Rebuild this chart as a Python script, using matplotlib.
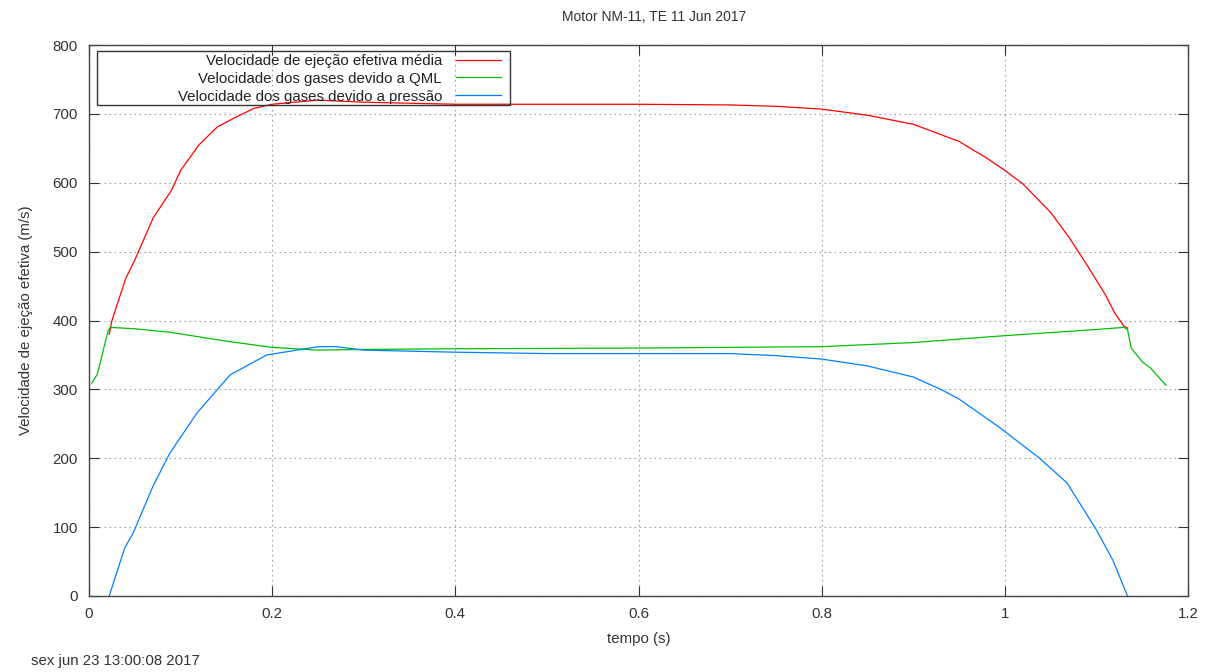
import matplotlib.pyplot as plt
from matplotlib.patches import Rectangle

# tempo (s) e velocidades (m/s)
t_med = [0.022, 0.025, 0.04, 0.05, 0.07, 0.09, 0.10, 0.12, 0.14, 0.16, 0.18, 0.20, 0.25,
         0.30, 0.40, 0.50, 0.60, 0.70, 0.75, 0.80, 0.85, 0.90, 0.93, 0.95, 0.98, 1.00,
         1.02, 1.05, 1.07, 1.09, 1.11, 1.12, 1.13, 1.134]
v_med = [380, 400, 461, 488, 549, 589, 618, 655, 681, 695, 708, 714, 720,
         717, 714, 714, 714, 713, 711, 707, 698, 685, 670, 660, 636, 618,
         598, 557, 521, 480, 437, 411, 392, 389]

t_qml = [0.003, 0.009, 0.021, 0.023, 0.05, 0.088, 0.15, 0.20, 0.25, 0.30, 0.40, 0.60,
         0.80, 0.90, 1.00, 1.10, 1.13, 1.134, 1.138, 1.15, 1.159, 1.176]
v_qml = [309, 322, 386, 390, 388, 383, 370, 361, 357, 358, 359, 360,
         362, 368, 378, 387, 390, 387, 360, 340, 331, 306]

t_pres = [0.022, 0.039, 0.048, 0.07, 0.088, 0.118, 0.154, 0.194, 0.25, 0.27, 0.30, 0.40,
          0.50, 0.60, 0.70, 0.75, 0.80, 0.85, 0.90, 0.93, 0.95, 0.995, 1.038, 1.068,
          1.10, 1.118, 1.134]
v_pres = [0, 70, 91, 160, 207, 266, 321, 350, 362, 362, 357, 354,
          352, 352, 352, 349, 344, 334, 318, 300, 286, 244, 200, 164,
          96, 52, 0]

plt.rcParams['font.family'] = ['Liberation Sans', 'DejaVu Sans']
plt.rcParams['font.size'] = 10.8

fig = plt.figure(figsize=(12.1, 6.72), dpi=100)
ax = fig.add_axes([0.0736, 0.1131, 0.9082, 0.8199])

ax.plot(t_med, v_med, color='#ff0000', lw=0.9, label='Velocidade de ejeção efetiva média')
ax.plot(t_qml, v_qml, color='#00c000', lw=0.9, label='Velocidade dos gases devido a QML')
ax.plot(t_pres, v_pres, color='#0080ff', lw=0.9, label='Velocidade dos gases devido a pressão')

ax.set_xlim(0, 1.2)
ax.set_ylim(0, 800)
ax.set_xticks([0, 0.2, 0.4, 0.6, 0.8, 1.0, 1.2])
ax.set_xticklabels(['0', '0.2', '0.4', '0.6', '0.8', '1', '1.2'])
ax.set_yticks(range(0, 801, 100))
ax.grid(True, color='#a0a0a0', linestyle=(0, (1.5, 3)), lw=0.8)
ax.tick_params(direction='in', top=True, right=True, length=7, color='#333333',
               colors='#333333', pad=8)
for s in ax.spines.values():
    s.set_color('#444444')
    s.set_linewidth(1.0)

ax.set_xlabel('tempo (s)', color='#333333', labelpad=8)
ax.set_ylabel('Velocidade de ejeção efetiva (m/s)', color='#333333', labelpad=14)
ax.set_title('Motor NM-11, TE 11 Jun 2017', color='#333333', pad=17, fontsize=10, x=0.514)

# legenda estilo gnuplot: texto alinhado a direita, amostra da linha a direita
leg = ax.legend(loc='upper right', bbox_to_anchor=(0.3745, 0.984), markerfirst=False,
                alignment='right', frameon=False, handlelength=3.0, borderaxespad=0,
                borderpad=0, labelspacing=0.26, handletextpad=0.9)
for txt in leg.get_texts():
    txt.set_color('#222222')
ax.add_patch(Rectangle((0.0073, 0.8911), 0.3758, 0.098, transform=ax.transAxes,
                       fill=False, edgecolor='#333333', lw=1.0, zorder=5))

fig.text(0.0256, 0.01, 'sex jun 23 13:00:08 2017', color='#333333')

fig.savefig('out.png', dpi=100)
